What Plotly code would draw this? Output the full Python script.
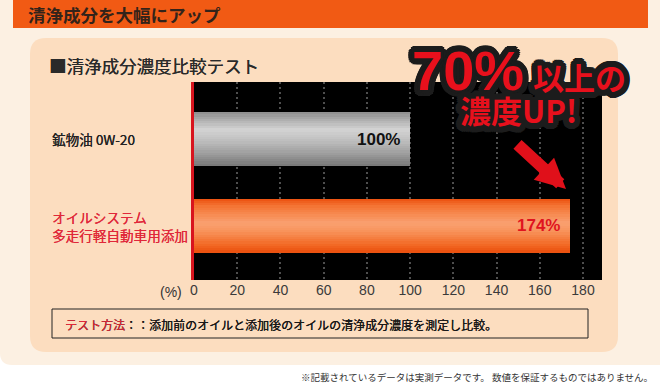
import math
import plotly.graph_objects as go

# ---------------- data ----------------
categories = ["鉱物油 0W-20", "オイルシステム<br>多走行軽自動車用添加"]
values = [100, 174]
label_colors = ["#222222", "#E0283A"]
value_text_colors = ["#111111", "#E0141E"]
x_ticks = [0, 20, 40, 60, 80, 100, 120, 140, 160, 180]
x_max = 188.8

header_text = "清浄成分を大幅にアップ"
title_text = "■清浄成分濃度比較テスト"
unit_text = "(%)"
method_label = "テスト方法"
method_text = "：：添加前のオイルと添加後のオイルの清浄成分濃度を測定し比較。"
footer_text = "※記載されているデータは実測データです。 数値を保証するものではありません。"
callout_big = "70%"
callout_small = "以上の"
callout_line2 = "濃度UP!"

# ---------------- geometry helpers (pixel -> paper) ----------------
W, H = 660, 387
PL, PR, PT, PB = 194, 602, 82, 280


def px(x):
    return (x - PL) / (PR - PL)


def py(y):
    return (PB - y) / (PB - PT)


def rounded_rect(x0, y0, x1, y1, r, corners=(True, True, True, True)):
    tl, tr, br, bl = corners
    rx = r / (PR - PL)
    ry = r / (PB - PT)
    X0, X1, Y0, Y1 = px(x0), px(x1), py(y0), py(y1)
    p = [f"M{X0 + (rx if tl else 0)},{Y0}", f"L{X1 - (rx if tr else 0)},{Y0}"]
    if tr:
        p.append(f"Q{X1},{Y0} {X1},{Y0 - ry}")
    p.append(f"L{X1},{Y1 + (ry if br else 0)}")
    if br:
        p.append(f"Q{X1},{Y1} {X1 - rx},{Y1}")
    p.append(f"L{X0 + (rx if bl else 0)},{Y1}")
    if bl:
        p.append(f"Q{X0},{Y1} {X0},{Y1 + ry}")
    p.append(f"L{X0},{Y0 - (ry if tl else 0)}")
    if tl:
        p.append(f"Q{X0},{Y0} {X0 + rx},{Y0}")
    p.append("Z")
    return " ".join(p)


def hex2rgb(h):
    h = h.lstrip("#")
    return [int(h[i:i + 2], 16) for i in (0, 2, 4)]


def grad(stops, t):
    for (t0, c0), (t1, c1) in zip(stops, stops[1:]):
        if t0 <= t <= t1:
            f = (t - t0) / (t1 - t0) if t1 > t0 else 0
            a, b = hex2rgb(c0), hex2rgb(c1)
            return "rgb(%d,%d,%d)" % tuple(round(a[i] + (b[i] - a[i]) * f) for i in range(3))
    return stops[-1][1]


# bar gradient styles (top -> bottom)
gray_stops = [(0, "#8c8c8c"), (0.12, "#a9a9a9"), (0.32, "#d4d4d4"), (0.5, "#c2c2c2"),
              (0.78, "#9c9c9c"), (1, "#767676")]
orange_stops = [(0, "#EC500E"), (0.15, "#F47636"), (0.45, "#F9A070"), (0.6, "#F8945C"),
                (0.85, "#F26A26"), (1, "#EA4E0C")]
bar_styles = [gray_stops, orange_stops]

BAR_W = 0.624
N = 24
slice_w = BAR_W / N

fig = go.Figure()
for k in range(N):
    t = (k + 0.5) / N
    fig.add_trace(go.Bar(
        x=values, y=categories, orientation="h",
        width=[slice_w * 1.15] * len(values),
        offset=[-BAR_W / 2 + k * slice_w] * len(values),
        marker=dict(color=[grad(s, t) for s in bar_styles], line=dict(width=0)),
        hoverinfo="skip", showlegend=False,
    ))

shapes = [
    dict(type="path", path=rounded_rect(0, 0, 660, 365, 12, (False, False, False, True)),
         fillcolor="#FCF0E2", line=dict(width=0)),
    dict(type="rect", x0=px(13), x1=px(648), y0=py(0), y1=py(28),
         fillcolor="#F15A14", line=dict(width=0)),
    dict(type="path", path=rounded_rect(30, 38, 618, 352, 16),
         fillcolor="#FCDDBF", line=dict(width=0)),
    dict(type="rect", x0=0, x1=1, y0=0, y1=1, fillcolor="#000000", line=dict(width=0)),
    dict(type="rect", x0=px(52), x1=px(588), y0=py(309), y1=py(338),
         fillcolor="rgba(0,0,0,0)", line=dict(width=1, color="#222222")),
]
for s in shapes:
    s.update(xref="paper", yref="paper", layer="below")

CJK = "Noto Sans CJK JP"
LAT = "Liberation Sans, Arial, Noto Sans CJK JP"


def semi_bold(color):
    return f"0.15px 0 0 {color}"


annotations = []
for cat, col in zip(categories, label_colors):
    annotations.append(dict(
        x=px(50), xref="paper", y=cat, yref="y", text=cat, showarrow=False,
        xanchor="left", yanchor="middle", align="left",
        font=dict(family=CJK, size=13.6, color=col, shadow=semi_bold(col))))
for cat, v, col in zip(categories, values, value_text_colors):
    annotations.append(dict(
        x=v, xref="x", y=cat, yref="y", text=f"<b>{v}%</b>", showarrow=False,
        xanchor="right", yanchor="middle", xshift=-8,
        font=dict(family=LAT, size=17, color=col)))

annotations += [
    dict(x=px(26), y=py(15), text=f"<b>{header_text}</b>", xanchor="left", yanchor="middle",
         font=dict(family=CJK, size=17.5, color="#33231A")),
    dict(x=px(47), y=py(65), text=title_text, xanchor="left", yanchor="middle",
         font=dict(family=CJK, size=17.5, color="#2A2A2A", shadow=semi_bold("#2A2A2A"))),
    dict(x=px(184), y=py(292), text=unit_text, xanchor="right", yanchor="middle",
         font=dict(family=LAT, size=14, color="#333333")),
    dict(x=px(63), y=py(324), xanchor="left", yanchor="middle",
         text=f"<span style='color:#E0283A'>{method_label}</span>{method_text}",
         font=dict(family=CJK, size=12, color="#1A1A1A", shadow="0.15px 0 0 currentColor")),
    dict(x=px(655), y=py(377), text=footer_text, xanchor="right", yanchor="middle",
         font=dict(family=CJK, size=9.5, color="#333333")),
]

shadow = ", ".join(
    f"{r * math.cos(2 * math.pi * k / 20):.1f}px {r * math.sin(2 * math.pi * k / 20):.1f}px 0 #1C1C1C"
    for r in (3, 6) for k in range(20))

annotations += [
    dict(x=px(566), y=py(189), ax=-50, ay=-46, text="", showarrow=True,
         arrowcolor="#E0101A", arrowwidth=12, arrowhead=2, arrowsize=0.5),
    dict(x=px(468), y=py(70), text=f"<b>{callout_big}</b>", xanchor="center", yanchor="middle",
         font=dict(family=LAT, size=56, color="#E8101C", shadow=shadow)),
    dict(x=px(579), y=py(76), text=f"<b>{callout_small}</b>", xanchor="center", yanchor="middle",
         font=dict(family=CJK, size=31, color="#E8101C", shadow=shadow)),
    dict(x=px(518), y=py(109), text=f"<b>{callout_line2}</b>", xanchor="center", yanchor="middle",
         font=dict(family=CJK, size=31, color="#E8101C", shadow=shadow)),
]
for a in annotations:
    a.setdefault("xref", "paper")
    a.setdefault("yref", "paper")
    a.setdefault("showarrow", False)

fig.update_layout(
    width=W, height=H,
    margin=dict(l=PL, r=W - PR, t=PT, b=H - PB, pad=0),
    paper_bgcolor="#FFFFFF", plot_bgcolor="rgba(0,0,0,0)",
    barmode="overlay", bargap=0, showlegend=False, hovermode=False,
    shapes=shapes, annotations=annotations,
    xaxis=dict(range=[0, x_max], tickvals=x_ticks, ticktext=[str(t) for t in x_ticks],
               showgrid=True, gridcolor="#4E4E4E", gridwidth=2, griddash="2px,3px",
               zeroline=False, showline=False, ticks="",
               tickfont=dict(family=LAT, size=14, color="#3A3A3A"), fixedrange=True),
    yaxis=dict(type="category", categoryorder="array", categoryarray=categories,
               range=[1.630, -0.659], showticklabels=False, showgrid=False, zeroline=False,
               showline=True, linecolor="#D8141E", linewidth=3, ticks="", fixedrange=True),
)

fig.write_html("out.html", config={"displayModeBar": False},
               post_script="document.body.style.margin='0';")
